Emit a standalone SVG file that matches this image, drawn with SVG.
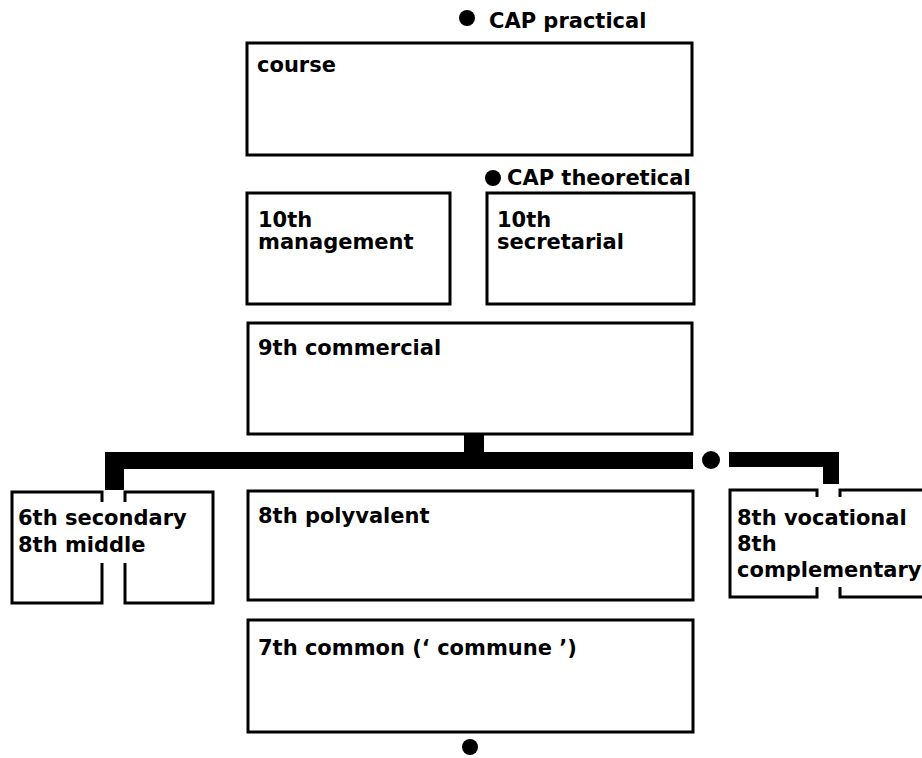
<svg xmlns="http://www.w3.org/2000/svg" width="922" height="758" viewBox="0 0 922 758">
<style>
.box{fill:none;stroke:#000;stroke-width:3}
.ln{fill:none;stroke:#000;stroke-width:3}
text{font-family:"DejaVu Sans","Liberation Sans",Arial,sans-serif;font-weight:bold;font-size:21px;fill:#000}
.bar{fill:#000}
</style>
<rect width="922" height="758" fill="#fff"/>
<g id="cap-practical">
<circle cx="467" cy="18" r="8"/>
<text x="489" y="28">CAP practical</text>
</g>
<g id="course">
<rect class="box" x="247" y="43" width="445" height="112"/>
<text x="257" y="72">course</text>
</g>
<g id="cap-theoretical">
<circle cx="493" cy="178" r="8"/>
<text x="507" y="185">CAP theoretical</text>
</g>
<g id="tenth-management">
<rect class="box" x="247" y="193" width="203" height="111"/>
<text x="258" y="227">10th</text>
<text x="258" y="249">management</text>
</g>
<g id="tenth-secretarial">
<rect class="box" x="487" y="193" width="207" height="111"/>
<text x="497" y="227">10th</text>
<text x="497" y="249">secretarial</text>
</g>
<g id="ninth-commercial">
<rect class="box" x="248" y="323" width="444" height="111"/>
<text x="258" y="355">9th commercial</text>
</g>
<g id="connectors">
<rect class="bar" x="464" y="434" width="20" height="19"/>
<rect class="bar" x="105" y="452" width="588" height="17"/>
<rect class="bar" x="105" y="452" width="19" height="38"/>
<circle cx="711" cy="460" r="9"/>
<rect class="bar" x="729" y="452" width="110" height="15"/>
<rect class="bar" x="823" y="452" width="16" height="32"/>
</g>
<g id="sixth-secondary">
<path class="ln" d="M102,502 V492 H12 V603 H102 V563"/>
<path class="ln" d="M125,502 V492 H213 V603 H125 V563"/>
<text x="18" y="525">6th secondary</text>
<text x="18" y="552">8th middle</text>
</g>
<g id="eighth-polyvalent">
<rect class="box" x="248" y="491" width="445" height="109"/>
<text x="258" y="523">8th polyvalent</text>
</g>
<g id="eighth-vocational">
<path class="ln" d="M817,497 V490 H730 V597 H817 V587"/>
<path class="ln" d="M840,497 V490 H930 M930,597 H840 V587"/>
<text x="737" y="525">8th vocational</text>
<text x="737" y="551">8th</text>
<text x="737" y="577">complementary</text>
</g>
<g id="seventh-common">
<rect class="box" x="248" y="620" width="445" height="112"/>
<text x="258" y="655">7th common (‘ commune ’)</text>
</g>
<g id="bottom-dot">
<circle cx="470" cy="747" r="8"/>
</g>
</svg>
